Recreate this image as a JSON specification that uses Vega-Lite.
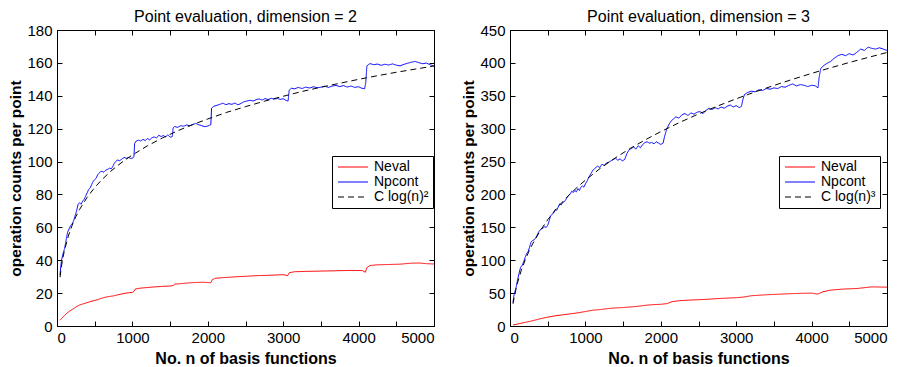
{
  "$schema": "https://vega.github.io/schema/vega-lite/v6.json",
  "padding": {"left": 8, "top": 8, "right": 4, "bottom": 0},
  "background": "white",
  "config": {
    "font": "Liberation Sans",
    "view": {"stroke": "black", "strokeWidth": 1},
    "axis": {
      "grid": false, "domainColor": "black", "tickColor": "black", "tickSize": -5,
      "labelFontSize": 15, "labelColor": "black", "labelPadding": 10, "format": "d",
      "titleFontSize": 15.5, "titleFontWeight": "bold", "titleColor": "black"
    },
    "axisX": {"labelPadding": 9, "titleFontSize": 16, "titlePadding": 5},
    "title": {"fontSize": 16, "fontWeight": "normal", "color": "black", "offset": -2},
    "legend": {
      "orient": "none", "title": null, "labelFontSize": 14, "symbolType": "M-1,0H5",
      "symbolSize": 100, "symbolStrokeWidth": 1, "strokeColor": "black", "fillColor": "white",
      "padding": 4, "rowPadding": 1, "labelOffset": 24, "cornerRadius": 0
    }
  },
  "resolve": {"scale": {"color": "independent", "strokeDash": "independent"}},
  "spacing": 23,
  "hconcat": [
    {
      "width": 377, "height": 296,
      "title": "Point evaluation, dimension = 2",
      "data": {"name": "d2", "values": [
        {"s":"Neval","n":40,"v":3.5},{"s":"Neval","n":60,"v":4.5},{"s":"Neval","n":80,"v":5.5},{"s":"Neval","n":100,"v":6.5},{"s":"Neval","n":150,"v":8.5},{"s":"Neval","n":200,"v":10},{"s":"Neval","n":250,"v":11.5},{"s":"Neval","n":300,"v":12.8},{"s":"Neval","n":350,"v":13.5},{"s":"Neval","n":400,"v":14.2},{"s":"Neval","n":450,"v":15},{"s":"Neval","n":500,"v":15.5},{"s":"Neval","n":550,"v":16.2},{"s":"Neval","n":600,"v":17},{"s":"Neval","n":650,"v":17.6},{"s":"Neval","n":700,"v":18},{"s":"Neval","n":750,"v":18.3},{"s":"Neval","n":800,"v":18.9},{"s":"Neval","n":850,"v":19.4},{"s":"Neval","n":900,"v":19.9},{"s":"Neval","n":950,"v":20.2},{"s":"Neval","n":1000,"v":20.4},{"s":"Neval","n":1020,"v":21},{"s":"Neval","n":1040,"v":22.5},{"s":"Neval","n":1100,"v":23},{"s":"Neval","n":1200,"v":23.4},{"s":"Neval","n":1300,"v":23.8},{"s":"Neval","n":1400,"v":24.1},{"s":"Neval","n":1500,"v":24.3},{"s":"Neval","n":1540,"v":24.6},{"s":"Neval","n":1560,"v":25.4},{"s":"Neval","n":1650,"v":25.8},{"s":"Neval","n":1750,"v":26.2},{"s":"Neval","n":1850,"v":26.5},{"s":"Neval","n":1950,"v":26.6},{"s":"Neval","n":2040,"v":26.3},{"s":"Neval","n":2060,"v":28.2},{"s":"Neval","n":2100,"v":29},{"s":"Neval","n":2200,"v":29.4},{"s":"Neval","n":2300,"v":29.7},{"s":"Neval","n":2400,"v":30},{"s":"Neval","n":2500,"v":30.2},{"s":"Neval","n":2600,"v":30.5},{"s":"Neval","n":2700,"v":30.7},{"s":"Neval","n":2800,"v":30.8},{"s":"Neval","n":2900,"v":31},{"s":"Neval","n":3000,"v":31.2},{"s":"Neval","n":3060,"v":30.6},{"s":"Neval","n":3080,"v":32.4},{"s":"Neval","n":3150,"v":33},{"s":"Neval","n":3300,"v":33.2},{"s":"Neval","n":3500,"v":33.4},{"s":"Neval","n":3700,"v":33.6},{"s":"Neval","n":3900,"v":33.8},{"s":"Neval","n":4050,"v":33.7},{"s":"Neval","n":4090,"v":32.7},{"s":"Neval","n":4110,"v":35.5},{"s":"Neval","n":4150,"v":36.8},{"s":"Neval","n":4250,"v":37.2},{"s":"Neval","n":4400,"v":37.4},{"s":"Neval","n":4550,"v":37.6},{"s":"Neval","n":4700,"v":38.2},{"s":"Neval","n":4800,"v":38.3},{"s":"Neval","n":4900,"v":37.9},{"s":"Neval","n":5000,"v":37.7},
        {"s":"Npcont","n":40,"v":31},{"s":"Npcont","n":50,"v":36},{"s":"Npcont","n":60,"v":40},{"s":"Npcont","n":70,"v":42},{"s":"Npcont","n":80,"v":44},{"s":"Npcont","n":100,"v":47},{"s":"Npcont","n":120,"v":52},{"s":"Npcont","n":140,"v":57},{"s":"Npcont","n":160,"v":59},{"s":"Npcont","n":180,"v":61},{"s":"Npcont","n":200,"v":62},{"s":"Npcont","n":220,"v":64},{"s":"Npcont","n":240,"v":67},{"s":"Npcont","n":260,"v":70},{"s":"Npcont","n":280,"v":74},{"s":"Npcont","n":300,"v":75},{"s":"Npcont","n":320,"v":74},{"s":"Npcont","n":340,"v":76},{"s":"Npcont","n":360,"v":77},{"s":"Npcont","n":380,"v":79},{"s":"Npcont","n":400,"v":81},{"s":"Npcont","n":420,"v":83},{"s":"Npcont","n":440,"v":84},{"s":"Npcont","n":460,"v":86},{"s":"Npcont","n":480,"v":88},{"s":"Npcont","n":500,"v":89},{"s":"Npcont","n":520,"v":90},{"s":"Npcont","n":540,"v":92},{"s":"Npcont","n":560,"v":93},{"s":"Npcont","n":580,"v":94},{"s":"Npcont","n":600,"v":94},{"s":"Npcont","n":620,"v":93.5},{"s":"Npcont","n":640,"v":94.5},{"s":"Npcont","n":660,"v":95},{"s":"Npcont","n":680,"v":95.5},{"s":"Npcont","n":700,"v":96},{"s":"Npcont","n":720,"v":95.5},{"s":"Npcont","n":740,"v":97},{"s":"Npcont","n":760,"v":99},{"s":"Npcont","n":780,"v":100},{"s":"Npcont","n":800,"v":101},{"s":"Npcont","n":830,"v":100.5},{"s":"Npcont","n":860,"v":101.5},{"s":"Npcont","n":890,"v":102.5},{"s":"Npcont","n":920,"v":102},{"s":"Npcont","n":950,"v":102.5},{"s":"Npcont","n":980,"v":101.8},{"s":"Npcont","n":1010,"v":102.3},{"s":"Npcont","n":1020,"v":103},{"s":"Npcont","n":1030,"v":111},{"s":"Npcont","n":1050,"v":112.5},{"s":"Npcont","n":1080,"v":113},{"s":"Npcont","n":1110,"v":112.5},{"s":"Npcont","n":1140,"v":113.5},{"s":"Npcont","n":1170,"v":112.8},{"s":"Npcont","n":1200,"v":114},{"s":"Npcont","n":1230,"v":113.2},{"s":"Npcont","n":1260,"v":114.5},{"s":"Npcont","n":1290,"v":115},{"s":"Npcont","n":1320,"v":114.3},{"s":"Npcont","n":1350,"v":116},{"s":"Npcont","n":1380,"v":115.2},{"s":"Npcont","n":1410,"v":115.8},{"s":"Npcont","n":1440,"v":115},{"s":"Npcont","n":1470,"v":116.2},{"s":"Npcont","n":1500,"v":114.8},{"s":"Npcont","n":1530,"v":115.3},{"s":"Npcont","n":1540,"v":120.5},{"s":"Npcont","n":1560,"v":121.3},{"s":"Npcont","n":1600,"v":120.8},{"s":"Npcont","n":1640,"v":121.8},{"s":"Npcont","n":1680,"v":121.5},{"s":"Npcont","n":1720,"v":122.3},{"s":"Npcont","n":1760,"v":121.7},{"s":"Npcont","n":1800,"v":122.5},{"s":"Npcont","n":1840,"v":123.2},{"s":"Npcont","n":1880,"v":122.4},{"s":"Npcont","n":1920,"v":121.8},{"s":"Npcont","n":1960,"v":121.2},{"s":"Npcont","n":2000,"v":121.6},{"s":"Npcont","n":2040,"v":122.4},{"s":"Npcont","n":2050,"v":132.5},{"s":"Npcont","n":2080,"v":133.6},{"s":"Npcont","n":2120,"v":134.2},{"s":"Npcont","n":2160,"v":134.8},{"s":"Npcont","n":2200,"v":135.5},{"s":"Npcont","n":2240,"v":134.6},{"s":"Npcont","n":2280,"v":135.2},{"s":"Npcont","n":2320,"v":134.8},{"s":"Npcont","n":2360,"v":135.6},{"s":"Npcont","n":2400,"v":134.5},{"s":"Npcont","n":2440,"v":135.3},{"s":"Npcont","n":2480,"v":136.4},{"s":"Npcont","n":2520,"v":136.8},{"s":"Npcont","n":2560,"v":137.3},{"s":"Npcont","n":2600,"v":136.8},{"s":"Npcont","n":2640,"v":137.6},{"s":"Npcont","n":2680,"v":138.1},{"s":"Npcont","n":2720,"v":137.4},{"s":"Npcont","n":2760,"v":138.3},{"s":"Npcont","n":2800,"v":137.7},{"s":"Npcont","n":2840,"v":138.5},{"s":"Npcont","n":2880,"v":137.9},{"s":"Npcont","n":2920,"v":138.4},{"s":"Npcont","n":2960,"v":137.8},{"s":"Npcont","n":3000,"v":138.2},{"s":"Npcont","n":3040,"v":137.1},{"s":"Npcont","n":3065,"v":136.8},{"s":"Npcont","n":3080,"v":143.5},{"s":"Npcont","n":3110,"v":144.6},{"s":"Npcont","n":3150,"v":144.2},{"s":"Npcont","n":3200,"v":145.1},{"s":"Npcont","n":3250,"v":144.4},{"s":"Npcont","n":3300,"v":145.3},{"s":"Npcont","n":3350,"v":144.7},{"s":"Npcont","n":3400,"v":145.5},{"s":"Npcont","n":3450,"v":144.9},{"s":"Npcont","n":3500,"v":145.2},{"s":"Npcont","n":3550,"v":145.8},{"s":"Npcont","n":3600,"v":145.1},{"s":"Npcont","n":3650,"v":145.9},{"s":"Npcont","n":3700,"v":146.3},{"s":"Npcont","n":3750,"v":145.6},{"s":"Npcont","n":3800,"v":146.2},{"s":"Npcont","n":3850,"v":145.3},{"s":"Npcont","n":3900,"v":145.9},{"s":"Npcont","n":3950,"v":145.1},{"s":"Npcont","n":4000,"v":145.5},{"s":"Npcont","n":4040,"v":144.6},{"s":"Npcont","n":4080,"v":144.3},{"s":"Npcont","n":4095,"v":148},{"s":"Npcont","n":4110,"v":158.2},{"s":"Npcont","n":4150,"v":159.6},{"s":"Npcont","n":4200,"v":158.9},{"s":"Npcont","n":4250,"v":159.3},{"s":"Npcont","n":4300,"v":158.5},{"s":"Npcont","n":4350,"v":159.2},{"s":"Npcont","n":4400,"v":158.7},{"s":"Npcont","n":4450,"v":159.4},{"s":"Npcont","n":4500,"v":158.6},{"s":"Npcont","n":4550,"v":158.2},{"s":"Npcont","n":4600,"v":159.1},{"s":"Npcont","n":4650,"v":159.8},{"s":"Npcont","n":4700,"v":160.4},{"s":"Npcont","n":4750,"v":160.9},{"s":"Npcont","n":4800,"v":160.1},{"s":"Npcont","n":4850,"v":159.5},{"s":"Npcont","n":4900,"v":159.9},{"s":"Npcont","n":4950,"v":158.8},{"s":"Npcont","n":5000,"v":158.2},
        {"s":"C log(n)²","n":40,"v":29.7},{"s":"C log(n)²","n":60,"v":36.5},{"s":"C log(n)²","n":80,"v":41.9},{"s":"C log(n)²","n":100,"v":46.2},{"s":"C log(n)²","n":150,"v":54.7},{"s":"C log(n)²","n":200,"v":61.2},{"s":"C log(n)²","n":250,"v":66.5},{"s":"C log(n)²","n":300,"v":70.9},{"s":"C log(n)²","n":400,"v":78.3},{"s":"C log(n)²","n":500,"v":84.2},{"s":"C log(n)²","n":600,"v":89.2},{"s":"C log(n)²","n":700,"v":93.6},{"s":"C log(n)²","n":800,"v":97.4},{"s":"C log(n)²","n":900,"v":100.9},{"s":"C log(n)²","n":1000,"v":104.0},{"s":"C log(n)²","n":1200,"v":109.6},{"s":"C log(n)²","n":1400,"v":114.4},{"s":"C log(n)²","n":1600,"v":118.7},{"s":"C log(n)²","n":1800,"v":122.5},{"s":"C log(n)²","n":2000,"v":125.9},{"s":"C log(n)²","n":2250,"v":129.9},{"s":"C log(n)²","n":2500,"v":133.4},{"s":"C log(n)²","n":2750,"v":136.7},{"s":"C log(n)²","n":3000,"v":139.7},{"s":"C log(n)²","n":3250,"v":142.6},{"s":"C log(n)²","n":3500,"v":145.2},{"s":"C log(n)²","n":3750,"v":147.6},{"s":"C log(n)²","n":4000,"v":150.0},{"s":"C log(n)²","n":4250,"v":152.2},{"s":"C log(n)²","n":4500,"v":154.3},{"s":"C log(n)²","n":4750,"v":156.2},{"s":"C log(n)²","n":5000,"v":158.1}
      ]},
      "layer": [
        {
          "mark": {"type": "line", "strokeWidth": 1, "clip": true},
          "encoding": {
            "x": {"field": "n", "type": "quantitative", "scale": {"domain": [0, 5000], "nice": false},
                  "axis": {"values": [0,500,1000,1500,2000,2500,3000,3500,4000,4500,5000], "title": "No. n of basis functions"}},
            "y": {"field": "v", "type": "quantitative", "scale": {"domain": [0, 180], "nice": false},
                  "axis": {"values": [0,20,40,60,80,100,120,140,160,180], "title": "operation counts per point", "titlePadding": 3}},
            "color": {"field": "s", "type": "nominal", "sort": null,
                      "scale": {"domain": ["Neval", "Npcont", "C log(n)²"], "range": ["#ff0000", "#0000ff", "#000000"]},
                      "legend": {"legendX": 275, "legendY": 126}},
            "strokeDash": {"field": "s", "type": "nominal", "sort": null,
                      "scale": {"domain": ["Neval", "Npcont", "C log(n)²"], "range": [[1, 0], [1, 0], [6, 4]]},
                      "legend": {"legendX": 275, "legendY": 126}}
          }
        },
        {
          "mark": {"type": "point", "opacity": 0},
          "encoding": {
            "x": {"field": "n", "type": "quantitative", "scale": {"domain": [0, 5000], "nice": false},
                  "axis": {"orient": "top", "labels": false, "title": null, "minExtent": 0, "maxExtent": 0, "values": [0,500,1000,1500,2000,2500,3000,3500,4000,4500,5000]}},
            "y": {"field": "v", "type": "quantitative", "scale": {"domain": [0, 180], "nice": false},
                  "axis": {"orient": "right", "labels": false, "title": null, "minExtent": 0, "maxExtent": 0, "values": [0,20,40,60,80,100,120,140,160,180]}}
          }
        }
      ],
      "resolve": {"axis": {"x": "independent", "y": "independent"}}
    },
    {
      "width": 377, "height": 296,
      "title": "Point evaluation, dimension = 3",
      "data": {"name": "d3", "values": [
        {"s":"Neval","n":40,"v":1.5},{"s":"Neval","n":100,"v":3},{"s":"Neval","n":200,"v":5.5},{"s":"Neval","n":300,"v":8},{"s":"Neval","n":400,"v":11},{"s":"Neval","n":500,"v":13.5},{"s":"Neval","n":600,"v":15.5},{"s":"Neval","n":700,"v":17},{"s":"Neval","n":800,"v":18.5},{"s":"Neval","n":900,"v":20},{"s":"Neval","n":1000,"v":22},{"s":"Neval","n":1100,"v":24},{"s":"Neval","n":1200,"v":25},{"s":"Neval","n":1300,"v":26.5},{"s":"Neval","n":1400,"v":27.5},{"s":"Neval","n":1500,"v":28},{"s":"Neval","n":1600,"v":29},{"s":"Neval","n":1700,"v":30},{"s":"Neval","n":1800,"v":31.5},{"s":"Neval","n":1900,"v":32.5},{"s":"Neval","n":2000,"v":33},{"s":"Neval","n":2080,"v":34},{"s":"Neval","n":2150,"v":37},{"s":"Neval","n":2250,"v":38.5},{"s":"Neval","n":2400,"v":39.5},{"s":"Neval","n":2600,"v":40.5},{"s":"Neval","n":2800,"v":42},{"s":"Neval","n":3000,"v":43},{"s":"Neval","n":3100,"v":44},{"s":"Neval","n":3200,"v":46},{"s":"Neval","n":3400,"v":47.5},{"s":"Neval","n":3600,"v":48.5},{"s":"Neval","n":3800,"v":49.5},{"s":"Neval","n":4000,"v":50},{"s":"Neval","n":4080,"v":48.5},{"s":"Neval","n":4150,"v":52},{"s":"Neval","n":4250,"v":54.5},{"s":"Neval","n":4400,"v":56},{"s":"Neval","n":4600,"v":57},{"s":"Neval","n":4800,"v":59.5},{"s":"Neval","n":5000,"v":59},
        {"s":"Npcont","n":40,"v":36},{"s":"Npcont","n":50,"v":45},{"s":"Npcont","n":60,"v":50},{"s":"Npcont","n":80,"v":58},{"s":"Npcont","n":100,"v":70},{"s":"Npcont","n":120,"v":80},{"s":"Npcont","n":140,"v":89},{"s":"Npcont","n":160,"v":92},{"s":"Npcont","n":180,"v":97},{"s":"Npcont","n":200,"v":104},{"s":"Npcont","n":220,"v":110},{"s":"Npcont","n":240,"v":113},{"s":"Npcont","n":260,"v":120},{"s":"Npcont","n":280,"v":128},{"s":"Npcont","n":300,"v":130},{"s":"Npcont","n":320,"v":131},{"s":"Npcont","n":340,"v":134},{"s":"Npcont","n":360,"v":138},{"s":"Npcont","n":380,"v":143},{"s":"Npcont","n":400,"v":146},{"s":"Npcont","n":420,"v":148},{"s":"Npcont","n":440,"v":149},{"s":"Npcont","n":460,"v":151},{"s":"Npcont","n":480,"v":150},{"s":"Npcont","n":500,"v":153},{"s":"Npcont","n":520,"v":160},{"s":"Npcont","n":540,"v":168},{"s":"Npcont","n":560,"v":170},{"s":"Npcont","n":580,"v":172},{"s":"Npcont","n":600,"v":177},{"s":"Npcont","n":620,"v":176},{"s":"Npcont","n":640,"v":181},{"s":"Npcont","n":660,"v":186},{"s":"Npcont","n":680,"v":184},{"s":"Npcont","n":700,"v":188},{"s":"Npcont","n":720,"v":189},{"s":"Npcont","n":740,"v":192},{"s":"Npcont","n":760,"v":196},{"s":"Npcont","n":780,"v":199},{"s":"Npcont","n":800,"v":201},{"s":"Npcont","n":820,"v":205},{"s":"Npcont","n":840,"v":203},{"s":"Npcont","n":860,"v":206},{"s":"Npcont","n":880,"v":204},{"s":"Npcont","n":900,"v":209},{"s":"Npcont","n":920,"v":206},{"s":"Npcont","n":940,"v":211},{"s":"Npcont","n":960,"v":213},{"s":"Npcont","n":980,"v":211},{"s":"Npcont","n":1000,"v":216},{"s":"Npcont","n":1020,"v":220},{"s":"Npcont","n":1040,"v":225},{"s":"Npcont","n":1060,"v":229},{"s":"Npcont","n":1080,"v":233},{"s":"Npcont","n":1100,"v":237},{"s":"Npcont","n":1130,"v":240},{"s":"Npcont","n":1160,"v":243},{"s":"Npcont","n":1190,"v":241},{"s":"Npcont","n":1220,"v":246},{"s":"Npcont","n":1250,"v":244},{"s":"Npcont","n":1280,"v":248},{"s":"Npcont","n":1310,"v":249},{"s":"Npcont","n":1340,"v":251},{"s":"Npcont","n":1370,"v":253},{"s":"Npcont","n":1400,"v":255},{"s":"Npcont","n":1430,"v":252},{"s":"Npcont","n":1460,"v":254},{"s":"Npcont","n":1490,"v":251},{"s":"Npcont","n":1520,"v":253},{"s":"Npcont","n":1550,"v":262},{"s":"Npcont","n":1580,"v":268},{"s":"Npcont","n":1610,"v":270},{"s":"Npcont","n":1640,"v":272},{"s":"Npcont","n":1670,"v":269},{"s":"Npcont","n":1700,"v":274},{"s":"Npcont","n":1730,"v":271},{"s":"Npcont","n":1760,"v":276},{"s":"Npcont","n":1790,"v":279},{"s":"Npcont","n":1820,"v":280},{"s":"Npcont","n":1850,"v":278},{"s":"Npcont","n":1880,"v":279},{"s":"Npcont","n":1910,"v":277},{"s":"Npcont","n":1940,"v":280},{"s":"Npcont","n":1970,"v":278},{"s":"Npcont","n":2000,"v":276},{"s":"Npcont","n":2030,"v":278},{"s":"Npcont","n":2050,"v":288},{"s":"Npcont","n":2080,"v":300},{"s":"Npcont","n":2110,"v":307},{"s":"Npcont","n":2140,"v":312},{"s":"Npcont","n":2170,"v":315},{"s":"Npcont","n":2200,"v":318},{"s":"Npcont","n":2240,"v":316},{"s":"Npcont","n":2280,"v":321},{"s":"Npcont","n":2320,"v":323},{"s":"Npcont","n":2360,"v":320},{"s":"Npcont","n":2400,"v":324},{"s":"Npcont","n":2440,"v":322},{"s":"Npcont","n":2480,"v":325},{"s":"Npcont","n":2520,"v":326},{"s":"Npcont","n":2560,"v":323},{"s":"Npcont","n":2600,"v":328},{"s":"Npcont","n":2640,"v":331},{"s":"Npcont","n":2680,"v":329},{"s":"Npcont","n":2720,"v":332},{"s":"Npcont","n":2760,"v":330},{"s":"Npcont","n":2800,"v":333},{"s":"Npcont","n":2840,"v":331},{"s":"Npcont","n":2880,"v":334},{"s":"Npcont","n":2920,"v":336},{"s":"Npcont","n":2960,"v":333},{"s":"Npcont","n":3000,"v":335},{"s":"Npcont","n":3040,"v":332},{"s":"Npcont","n":3070,"v":334},{"s":"Npcont","n":3090,"v":345},{"s":"Npcont","n":3110,"v":352},{"s":"Npcont","n":3150,"v":355},{"s":"Npcont","n":3200,"v":357},{"s":"Npcont","n":3250,"v":356},{"s":"Npcont","n":3300,"v":359},{"s":"Npcont","n":3350,"v":358},{"s":"Npcont","n":3400,"v":361},{"s":"Npcont","n":3450,"v":360},{"s":"Npcont","n":3500,"v":362},{"s":"Npcont","n":3550,"v":361},{"s":"Npcont","n":3600,"v":364},{"s":"Npcont","n":3650,"v":363},{"s":"Npcont","n":3700,"v":366},{"s":"Npcont","n":3750,"v":368},{"s":"Npcont","n":3800,"v":365},{"s":"Npcont","n":3850,"v":367},{"s":"Npcont","n":3900,"v":366},{"s":"Npcont","n":3950,"v":364},{"s":"Npcont","n":4000,"v":366},{"s":"Npcont","n":4050,"v":365},{"s":"Npcont","n":4085,"v":362},{"s":"Npcont","n":4100,"v":378},{"s":"Npcont","n":4120,"v":391},{"s":"Npcont","n":4150,"v":395},{"s":"Npcont","n":4200,"v":399},{"s":"Npcont","n":4250,"v":402},{"s":"Npcont","n":4300,"v":407},{"s":"Npcont","n":4350,"v":411},{"s":"Npcont","n":4400,"v":413},{"s":"Npcont","n":4450,"v":411},{"s":"Npcont","n":4500,"v":414},{"s":"Npcont","n":4550,"v":412},{"s":"Npcont","n":4600,"v":416},{"s":"Npcont","n":4650,"v":421},{"s":"Npcont","n":4700,"v":419},{"s":"Npcont","n":4750,"v":424},{"s":"Npcont","n":4800,"v":422},{"s":"Npcont","n":4850,"v":421},{"s":"Npcont","n":4900,"v":423},{"s":"Npcont","n":4950,"v":421},{"s":"Npcont","n":5000,"v":419},
        {"s":"C log(n)³","n":40,"v":33.8},{"s":"C log(n)³","n":60,"v":46.2},{"s":"C log(n)³","n":80,"v":56.6},{"s":"C log(n)³","n":100,"v":65.7},{"s":"C log(n)³","n":150,"v":84.7},{"s":"C log(n)³","n":200,"v":100.1},{"s":"C log(n)³","n":250,"v":113.3},{"s":"C log(n)³","n":300,"v":124.9},{"s":"C log(n)³","n":400,"v":144.7},{"s":"C log(n)³","n":500,"v":161.5},{"s":"C log(n)³","n":600,"v":176.2},{"s":"C log(n)³","n":700,"v":189.2},{"s":"C log(n)³","n":800,"v":201.0},{"s":"C log(n)³","n":900,"v":211.8},{"s":"C log(n)³","n":1000,"v":221.8},{"s":"C log(n)³","n":1200,"v":239.9},{"s":"C log(n)³","n":1400,"v":255.9},{"s":"C log(n)³","n":1600,"v":270.3},{"s":"C log(n)³","n":1800,"v":283.4},{"s":"C log(n)³","n":2000,"v":295.5},{"s":"C log(n)³","n":2250,"v":309.5},{"s":"C log(n)³","n":2500,"v":322.3},{"s":"C log(n)³","n":2750,"v":334.3},{"s":"C log(n)³","n":3000,"v":345.4},{"s":"C log(n)³","n":3250,"v":355.9},{"s":"C log(n)³","n":3500,"v":365.7},{"s":"C log(n)³","n":3750,"v":375.1},{"s":"C log(n)³","n":4000,"v":384.0},{"s":"C log(n)³","n":4250,"v":392.5},{"s":"C log(n)³","n":4500,"v":400.6},{"s":"C log(n)³","n":4750,"v":408.3},{"s":"C log(n)³","n":5000,"v":415.8}
      ]},
      "layer": [
        {
          "mark": {"type": "line", "strokeWidth": 1, "clip": true},
          "encoding": {
            "x": {"field": "n", "type": "quantitative", "scale": {"domain": [0, 5000], "nice": false},
                  "axis": {"values": [0,500,1000,1500,2000,2500,3000,3500,4000,4500,5000], "title": "No. n of basis functions"}},
            "y": {"field": "v", "type": "quantitative", "scale": {"domain": [0, 450], "nice": false},
                  "axis": {"values": [0,50,100,150,200,250,300,350,400,450], "title": "operation counts per point", "titlePadding": 3}},
            "color": {"field": "s", "type": "nominal", "sort": null,
                      "scale": {"domain": ["Neval", "Npcont", "C log(n)³"], "range": ["#ff0000", "#0000ff", "#000000"]},
                      "legend": {"legendX": 269, "legendY": 126}},
            "strokeDash": {"field": "s", "type": "nominal", "sort": null,
                      "scale": {"domain": ["Neval", "Npcont", "C log(n)³"], "range": [[1, 0], [1, 0], [6, 4]]},
                      "legend": {"legendX": 269, "legendY": 126}}
          }
        },
        {
          "mark": {"type": "point", "opacity": 0},
          "encoding": {
            "x": {"field": "n", "type": "quantitative", "scale": {"domain": [0, 5000], "nice": false},
                  "axis": {"orient": "top", "labels": false, "title": null, "minExtent": 0, "maxExtent": 0, "values": [0,500,1000,1500,2000,2500,3000,3500,4000,4500,5000]}},
            "y": {"field": "v", "type": "quantitative", "scale": {"domain": [0, 450], "nice": false},
                  "axis": {"orient": "right", "labels": false, "title": null, "minExtent": 0, "maxExtent": 0, "values": [0,50,100,150,200,250,300,350,400,450]}}
          }
        }
      ],
      "resolve": {"axis": {"x": "independent", "y": "independent"}}
    }
  ]
}
